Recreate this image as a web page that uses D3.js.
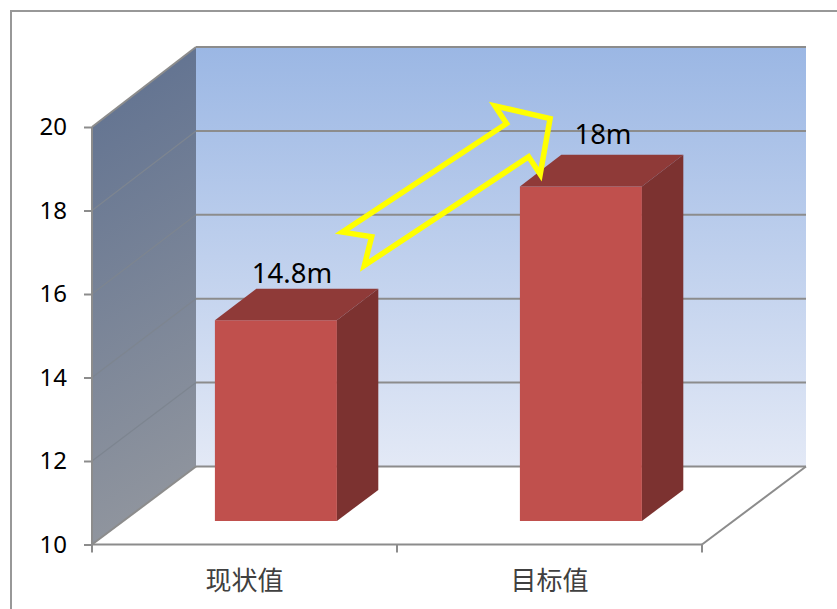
<!DOCTYPE html>
<html>
<head>
<meta charset="utf-8">
<script src="https://cdn.jsdelivr.net/npm/d3@7/dist/d3.min.js"></script>
<style>
html,body{margin:0;padding:0;background:#fff;overflow:hidden}
svg{display:block}
</style>
</head>
<body>
<svg id="chart" width="837" height="609"></svg>
<script>
// Chart values
const categories = ["现状值", "目标值"];
const values = [14.8, 18];
const valueLabels = ["14.8m", "18m"];
const yTicks = [10, 12, 14, 16, 18, 20];

// Notched block arrow, local coordinates: along the shaft, across the shaft
const arrowShape = [[0,-20],[22,0],[0,20],[197,20],[197,41],[236,0],[197,-41],[197,-20]];

const svg = d3.select("#chart");
const axisColor = "#8c8c8c";

// Oblique 3D frame: a front plane and a back plane joined by a depth of 0..1
const domainX = [92, 702];
const depthX = 104;
const yFront = d3.scaleLinear().domain([10, 20]).range([544.5, 127]);
const yBack = d3.scaleLinear().domain([10, 20]).range([466.5, 47]);
const x = d3.scaleBand().domain(categories).range(domainX).paddingInner(0).paddingOuter(0);
const barWidth = x.bandwidth() / 2.5;
const barDepth = [0.302, 0.7];

const px = (fx, d) => fx + depthX * d;
const py = (v, d) => yFront(v) + (yBack(v) - yFront(v)) * d;
const pt = (fx, v, d) => [px(fx, d), py(v, d)];
const line = d3.line();
const poly = pts => line(pts) + "Z";

const defs = svg.append("defs");
const grad = (id, x2, y2, stops) => {
  const g = defs.append("linearGradient").attr("id", id)
    .attr("x1", 0).attr("y1", 0).attr("x2", x2).attr("y2", y2);
  stops.forEach(([o, c]) => g.append("stop").attr("offset", o).attr("stop-color", c));
};
grad("wallBack", 0, 1, [[0, "#9bb7e4"], [1, "#e3e9f6"]]);
grad("wallSide", 0.12, 1, [[0, "#5e7090"], [1, "#90959e"]]);

// Outer chart frame, running off the right and bottom edges
svg.append("path").attr("d", "M11,620V11H840").attr("fill", "none")
  .attr("stroke", "#989898").attr("stroke-width", 2);

const [v0, v1] = yFront.domain();
const [xL, xR] = domainX;

// Walls
svg.append("path").attr("fill", "url(#wallBack)")
  .attr("d", poly([pt(xL, v0, 1), pt(xL, v1, 1), pt(xR, v1, 1), pt(xR, v0, 1)]));
svg.append("path").attr("fill", "url(#wallSide)")
  .attr("d", poly([pt(xL, v0, 0), pt(xL, v1, 0), pt(xL, v1, 1), pt(xL, v0, 1)]));

// Gridlines across the side wall and the back wall
svg.append("g").selectAll("path").data(yTicks.slice(1, -1)).join("path")
  .attr("d", v => line([pt(xL, v, 0), pt(xL, v, 1)]))
  .attr("fill", "none").attr("stroke", "#7d8590").attr("stroke-width", 1.2);
svg.append("g").selectAll("path").data(yTicks).join("path")
  .attr("d", v => line([pt(xL, v, 1), pt(xR, v, 1)]))
  .attr("fill", "none").attr("stroke", axisColor).attr("stroke-width", 2);

// Frame edges of the walls and floor
const edges = [
  [pt(xL, v1, 0), pt(xL, v1, 1)],
  [pt(xL, v0, 0), pt(xL, v0, 1)],
  [pt(xR, v0, 0), pt(xR, v0, 1)],
  [pt(xL, v0, 0), pt(xR, v0, 0)],
  [pt(xL, v0, 0), pt(xL, v1, 0)]
];
svg.append("g").selectAll("path").data(edges).join("path")
  .attr("d", d => line(d)).attr("fill", "none")
  .attr("stroke", axisColor).attr("stroke-width", 2);

// Bars: front, top and right faces
const bars = svg.append("g").selectAll("g").data(categories.map((c, i) => ({c, v: values[i]}))).join("g");
const barX = d => x(d.c) + (x.bandwidth() - barWidth) / 2;
const [dA, dB] = barDepth;
bars.append("path").attr("fill", "#c0504d").attr("d", d => {
  const l = barX(d), r = l + barWidth;
  return poly([pt(l, v0, dA), pt(l, d.v, dA), pt(r, d.v, dA), pt(r, v0, dA)]);
});
bars.append("path").attr("fill", "#8f3a38").attr("d", d => {
  const l = barX(d), r = l + barWidth;
  return poly([pt(l, d.v, dA), pt(l, d.v, dB), pt(r, d.v, dB), pt(r, d.v, dA)]);
});
bars.append("path").attr("fill", "#7c3230").attr("d", d => {
  const r = barX(d) + barWidth;
  return poly([pt(r, v0, dA), pt(r, d.v, dA), pt(r, d.v, dB), pt(r, v0, dB)]);
});

// Value axis
const yAxis = svg.append("g").attr("transform", `translate(${xL},0)`)
  .call(d3.axisLeft(yFront).tickValues(yTicks).tickSize(8).tickPadding(17).tickFormat(d3.format("d")));
yAxis.select(".domain").remove();
yAxis.selectAll("line").attr("stroke", axisColor).attr("stroke-width", 2);
yAxis.selectAll("text").attr("font-family", "'Noto Sans', sans-serif").attr("font-size", 24).attr("fill", "#000");

// Category axis: labels at band centres, ticks at band edges
const xAxis = svg.append("g").attr("transform", `translate(0,${yFront(v0)})`)
  .call(d3.axisBottom(x).tickSize(0).tickPadding(27));
xAxis.select(".domain").remove();
xAxis.selectAll("text").attr("font-family", "'Noto Sans CJK SC', sans-serif")
  .attr("font-size", 26).attr("fill", "#404040");
xAxis.selectAll("path.edge").data([xL, xL + x.bandwidth(), xR]).join("path")
  .attr("class", "edge").attr("d", e => `M${e},0V8`)
  .attr("stroke", axisColor).attr("stroke-width", 2);

// Value labels above each bar
svg.append("g").selectAll("text").data(bars.data()).join("text")
  .attr("x", (d, i) => barX(d) + barWidth / 2 + 47.5 + i * 6)
  .attr("y", (d, i) => py(d.v, dA) - 37 - i * 5)
  .attr("text-anchor", "middle")
  .attr("font-family", "'Noto Sans', sans-serif").attr("font-size", 27.5).attr("fill", "#000")
  .text((d, i) => valueLabels[i]);

// Rising arrow from the current value towards the target
const barTop = (i, side, d) => pt(barX(bars.data()[i]) + side * barWidth, values[i], d);
const tail = barTop(0, 1, dB).map((c, i) => c + [-25, -40][i]);
const tip = barTop(1, 0, dB).map((c, i) => c + [-10, -37][i]);
const angle = Math.atan2(tip[1] - tail[1], tip[0] - tail[0]);
svg.append("path")
  .attr("d", poly(arrowShape))
  .attr("transform", `translate(${tail}) rotate(${angle * 180 / Math.PI})`)
  .attr("fill", "none").attr("stroke", "#ffff00").attr("stroke-width", 5.5)
  .attr("stroke-linejoin", "miter").attr("stroke-miterlimit", 10);
</script>
</body>
</html>
